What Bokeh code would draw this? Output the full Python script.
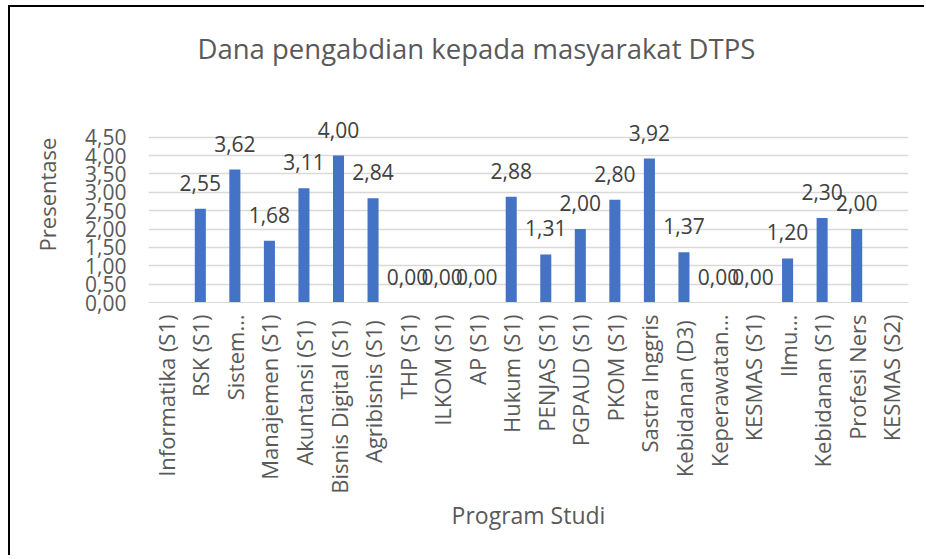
import math
from bokeh.plotting import figure
from bokeh.models import ColumnDataSource, LabelSet, FactorRange, CustomJSTickFormatter, FixedTicker
from bokeh.core.properties import value
from bokeh.embed import file_html
from bokeh.resources import INLINE

categories = ["Informatika (S1)", "RSK (S1)", "Sistem…", "Manajemen (S1)", "Akuntansi  (S1)",
              "Bisnis Digital  (S1)", "Agribisnis  (S1)", "THP (S1)", "ILKOM (S1)", "AP (S1)",
              "Hukum (S1)", "PENJAS (S1)", "PGPAUD (S1)", "PKOM (S1)", "Sastra Inggris",
              "Kebidanan  (D3)", "Keperawatan…", "KESMAS (S1)", "Ilmu…", "Kebidanan (S1)",
              "Profesi Ners", "KESMAS (S2)"]
values = [float("nan"), 2.55, 3.62, 1.68, 3.11, 4.00, 2.84, 0.00, 0.00, 0.00,
          2.88, 1.31, 2.00, 2.80, 3.92, 1.37, 0.00, 0.00, 1.20, 2.30, 2.00, float("nan")]
y_ticks = [0, 0.5, 1.0, 1.5, 2.0, 2.5, 3.0, 3.5, 4.0, 4.5]

labels = ["" if math.isnan(v) else f"{v:.2f}".replace(".", ",") for v in values]
label_y = [0 if math.isnan(v) else v for v in values]
src = ColumnDataSource(dict(cat=categories, val=values, lab=labels, ly=label_y))

FONT = "Open Sans"
GREY = "#595959"

p = figure(x_range=FactorRange(*categories, range_padding=0), y_range=(0, 5.88),
           width=916, height=550, output_backend="svg", toolbar_location=None,
           min_border_left=138, min_border_right=18, min_border_top=0, min_border_bottom=255)
p.styles = {"margin-left": "10px", "margin-top": "7px",
            "box-shadow": "-2px -2px 0px 0px #000"}

p.vbar(x="cat", top="val", width=0.32, source=src, fill_color="#4472C4", line_color=None)

p.add_layout(LabelSet(x="cat", y="ly", text="lab", source=src, text_align="center",
                      text_baseline="middle", y_offset=26, text_font=value(FONT),
                      text_font_size="21px", text_color="#404040"))

p.title.text = "Dana pengabdian kepada masyarakat DTPS"
p.title.align = "left"
p.title.offset = 49
p.title.text_font = FONT
p.title.text_font_size = "27.5px"
p.title.text_font_style = "normal"
p.title.text_color = GREY
p.title.standoff = 40

p.outline_line_color = None
p.xgrid.grid_line_color = None
p.ygrid.grid_line_color = "#d9d9d9"
p.ygrid.grid_line_width = 1.5

p.yaxis.ticker = FixedTicker(ticks=y_ticks)
p.yaxis.formatter = CustomJSTickFormatter(code="return tick.toFixed(2).replace('.', ',');")
p.yaxis.axis_line_color = None
p.yaxis.major_tick_line_color = None
p.yaxis.minor_tick_line_color = None
p.yaxis.major_label_standoff = 16
p.yaxis.major_label_text_font = FONT
p.yaxis.major_label_text_font_size = "21px"
p.yaxis.major_label_text_color = GREY
p.yaxis.axis_label = "Presentase"
p.yaxis.axis_label_text_font = FONT
p.yaxis.axis_label_text_font_size = "22px"
p.yaxis.axis_label_text_font_style = "normal"
p.yaxis.axis_label_text_color = GREY
p.yaxis.axis_label_standoff = 20

p.xaxis.axis_line_color = "#d9d9d9"
p.xaxis.major_tick_line_color = None
p.xaxis.minor_tick_line_color = None
p.xaxis.major_label_orientation = math.pi / 2
p.xaxis.major_label_standoff = 6
p.xaxis.major_label_text_font = FONT
p.xaxis.major_label_text_font_size = "22px"
p.xaxis.major_label_text_color = GREY
p.xaxis.axis_label = "Program Studi"
p.xaxis.axis_label_text_font = FONT
p.xaxis.axis_label_text_font_size = "23px"
p.xaxis.axis_label_text_font_style = "normal"
p.xaxis.axis_label_text_color = GREY
p.xaxis.axis_label_standoff = 2

open("out.html", "w").write(file_html(p, INLINE))
